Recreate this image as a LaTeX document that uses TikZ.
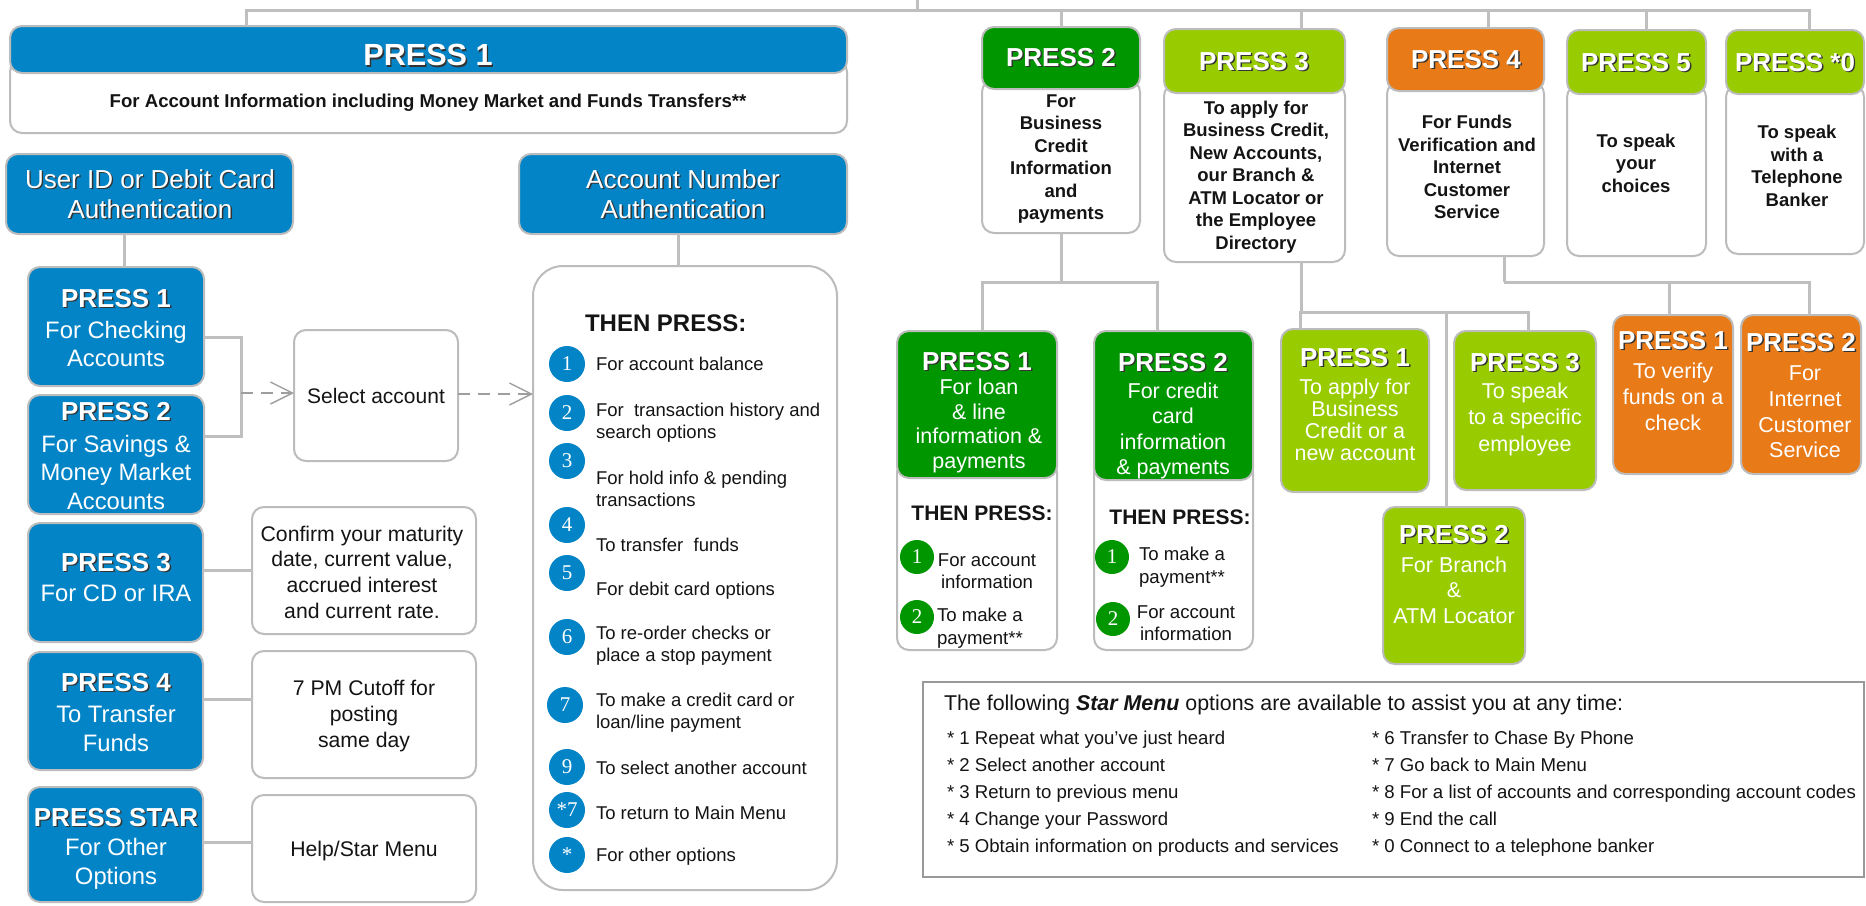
\documentclass[tikz,border=0pt]{standalone}
\usepackage{fontspec}
\setmainfont{Liberation Sans}
\newfontfamily\numfont{Liberation Serif}
\usetikzlibrary{arrows.meta}
\definecolor{cblue}{RGB}{2,132,199}
\definecolor{cdgreen}{RGB}{0,150,0}
\definecolor{clgreen}{RGB}{153,204,0}
\definecolor{corange}{RGB}{232,122,24}
\definecolor{cline}{RGB}{191,191,191}
\definecolor{cedge}{RGB}{188,188,188}
\definecolor{ctext}{RGB}{20,20,20}
\newcommand\shd[1]{\leavevmode\rlap{\kern0.7pt\raisebox{-0.7pt}{\textcolor{black!80}{#1}}}#1}
\newcommand\mkbox[6]{%
  \pgfmathsetmacro\mkw{(#4-#2)*0.5}%
  \pgfmathsetmacro\mkh{(#5-#3)*0.5}%
  \node[#6,minimum width=\mkw pt,minimum height=\mkh pt] (#1) at ({(#2+#4)/2},{(#3+#5)/2}) {};}
\begin{document}
\begin{tikzpicture}[x=0.5pt,y=-0.5pt,
  every node/.style={inner sep=0pt,outer sep=0pt},
  conn/.style={draw=cline,line width=1.5pt},
  wbox/.style={draw=cedge,line width=1pt,fill=white,rounded corners=6pt},
  cbox/.style={draw=cedge,line width=1pt,fill=#1,rounded corners=6pt},
  lbl/.style={text=white,font=\fontsize{13}{15}\selectfont\bfseries},
  wtxt/.style={text=white,align=center},
  btxt/.style={text=ctext,align=center},
  topbody/.style={text=ctext,align=center,font=\fontsize{9.25}{11.25}\selectfont\bfseries},
  numc/.style={circle,fill=cblue,minimum size=18pt,text=white,font=\numfont\fontsize{10.5}{12}\selectfont},
  gnum/.style={circle,fill=cdgreen,minimum size=17pt,text=white,font=\numfont\fontsize{10.5}{12}\selectfont},
  item/.style={anchor=west,align=left,text=ctext,font=\fontsize{9.25}{10.85}\selectfont},
  gitem/.style={text=ctext,font=\fontsize{9.3}{11.25}\selectfont},
  dasharrow/.style={draw=black!38,line width=0.7pt,dash pattern=on 6pt off 4pt,-{Straight Barb[length=11pt,width=11pt]}}
]
\useasboundingbox (0,0) rectangle (1866,905);
\fill[white] (0,0) rectangle (1866,905);

% ---------- top PRESS 1 ----------
\coordinate (mainin) at (917,0);
\coordinate (bus) at (917,10);
\mkbox{p1body}{10}{60}{847}{133}{wbox}
\mkbox{p1head}{10}{26}{847}{73}{cbox=cblue}
\node[lbl,font=\fontsize{15.3}{18}\selectfont\bfseries] (p1lbl) at (428,56) {\shd{PRESS 1}};
\node[btxt,font=\fontsize{9.3}{11}\selectfont\bfseries] (p1txt) at (428,103) {For Account Information including Money Market and Funds Transfers**};

\mkbox{auth1}{6}{154}{293}{234}{cbox=cblue}
\node[wtxt,font=\fontsize{13}{15}\selectfont] (auth1t) at (150,195) {\shd{User ID or Debit Card}\\\shd{Authentication}};
\mkbox{auth2}{519}{154}{847}{234}{cbox=cblue}
\node[wtxt,font=\fontsize{13}{15}\selectfont] (auth2t) at (683,195) {\shd{Account Number}\\\shd{Authentication}};

% ---------- left column ----------
\mkbox{lp1}{28}{267}{204}{386}{cbox=cblue}
\node[lbl] (lp1l) at (116,299) {\shd{PRESS 1}};
\node[wtxt,font=\fontsize{11.9}{14}\selectfont] (lp1t) at (116,344) {For Checking\\Accounts};
\mkbox{lp2}{28}{395}{204}{514}{cbox=cblue}
\node[lbl] (lp2l) at (116,412) {\shd{PRESS 2}};
\node[wtxt,font=\fontsize{11.9}{14.25}\selectfont] (lp2t) at (116,472) {For Savings \&\\Money Market\\Accounts};
\mkbox{lp3}{28}{523}{203}{642}{cbox=cblue}
\node[lbl] (lp3l) at (116,563) {\shd{PRESS 3}};
\node[wtxt,font=\fontsize{11.9}{14}\selectfont] (lp3t) at (116,593) {For CD or IRA};
\mkbox{lp4}{28}{652}{203}{770}{cbox=cblue}
\node[lbl] (lp4l) at (116,683) {\shd{PRESS 4}};
\node[wtxt,font=\fontsize{11.9}{14.5}\selectfont] (lp4t) at (116,728) {To Transfer\\Funds};
\mkbox{lpS}{28}{787}{203}{902}{cbox=cblue}
\node[lbl] (lpSl) at (116,818) {\shd{PRESS STAR}};
\node[wtxt,font=\fontsize{11.9}{14.5}\selectfont] (lpSt) at (116,864) {For Other\\Options};

\mkbox{sel}{294}{330}{458}{461}{wbox}
\node[btxt,font=\fontsize{10.5}{12.5}\selectfont] (selt) at (376,396) {Select account};
\mkbox{conf}{252}{507}{476}{634}{wbox}
\node[btxt,font=\fontsize{10.6}{12.85}\selectfont] (conft) at (362,572) {Confirm your maturity\\date, current value,\\accrued interest\\and current rate.};
\mkbox{pm}{252}{651}{476}{778}{wbox}
\node[btxt,font=\fontsize{10.6}{12.85}\selectfont] (pmt) at (364,716) {7 PM Cutoff for\\posting\\same day};
\mkbox{help}{252}{795}{476}{902}{wbox}
\node[btxt,font=\fontsize{10.6}{12.85}\selectfont] (helpt) at (364,851) {Help/Star Menu};

% ---------- THEN PRESS list ----------
\mkbox{then}{533}{266}{837}{890}{wbox,rounded corners=15pt}
\node[anchor=west,text=ctext,font=\fontsize{12}{14}\selectfont\bfseries] (thenl) at (585,323) {THEN PRESS:};
\node[numc] (n1) at (567,364) {1};
\node[item] (i1) at (596,364) {For account balance};
\node[numc] (n2) at (567,413) {2};
\node[item] (i2) at (596,423) {For~ transaction history and\\search options};
\node[numc] (n3) at (567,461) {3};
\node[item] (i3) at (596,489) {For hold info \& pending\\transactions};
\node[numc] (n4) at (567,525) {4};
\node[item] (i4) at (596,545) {To transfer~ funds};
\node[numc] (n5) at (567,573) {5};
\node[item] (i5) at (596,591) {For debit card options};
\node[numc] (n6) at (567,637) {6};
\node[item] (i6) at (596,646) {To re-order checks or\\place a stop payment};
\node[numc] (n7) at (565,705) {7};
\node[item] (i7) at (596,713) {To make a credit card or\\loan/line payment};
\node[numc] (n9) at (567,767) {9};
\node[item] (i9) at (596,768) {To select another account};
\node[numc] (n10) at (567,810) {*7};
\node[item] (i10) at (596,813) {To return to Main Menu};
\node[numc] (n11) at (567,855) {*};
\node[item] (i11) at (596,857) {For other options};

% ---------- top row ----------
\mkbox{t2b}{982}{80}{1140}{233}{wbox}
\mkbox{t2h}{982}{27}{1140}{89}{cbox=cdgreen}
\node[lbl] (t2l) at (1061,58) {\shd{PRESS 2}};
\node[topbody] (t2t) at (1061,159) {For\\Business\\Credit\\Information\\and\\payments};

\mkbox{t3b}{1164}{84}{1345}{262}{wbox}
\mkbox{t3h}{1164}{29}{1345}{93}{cbox=clgreen}
\node[lbl] (t3l) at (1254,62) {\shd{PRESS 3}};
\node[topbody] (t3t) at (1256,177) {To apply for\\Business Credit,\\New Accounts,\\our Branch \&\\ATM Locator or\\the Employee\\Directory};

\mkbox{t4b}{1387}{82}{1544}{256}{wbox}
\mkbox{t4h}{1387}{28}{1544}{91}{cbox=corange}
\node[lbl] (t4l) at (1466,60) {\shd{PRESS 4}};
\node[topbody] (t4t) at (1467,167) {For Funds\\Verification and\\Internet\\Customer\\Service};

\mkbox{t5b}{1567}{85}{1706}{256}{wbox}
\mkbox{t5h}{1567}{30}{1706}{94}{cbox=clgreen}
\node[lbl] (t5l) at (1636,63) {\shd{PRESS 5}};
\node[topbody] (t5t) at (1636,163) {To speak\\your\\choices};

\mkbox{t0b}{1726}{85}{1864}{254}{wbox}
\mkbox{t0h}{1726}{30}{1864}{94}{cbox=clgreen}
\node[lbl] (t0l) at (1795,63) {\shd{PRESS *0}};
\node[topbody] (t0t) at (1797,166) {To speak\\with a\\Telephone\\Banker};

% ---------- PRESS 2 sub-boxes ----------
\mkbox{g1b}{897}{460}{1057}{650}{wbox}
\mkbox{g1h}{897}{331}{1057}{478}{cbox=cdgreen}
\node[lbl] (g1l) at (977,362) {\shd{PRESS 1}};
\node[wtxt,font=\fontsize{10.75}{12.35}\selectfont] (g1t) at (979,426) {For loan\\\& line\\information \&\\payments};
\node[text=ctext,font=\fontsize{10.5}{12}\selectfont\bfseries] (g1then) at (982,513) {THEN PRESS:};
\node[gnum] (g1n1) at (917,557) {1};
\node[gitem,align=center] (g1i1) at (987,571) {For account\\information};
\node[gnum] (g1n2) at (917,617) {2};
\node[gitem,align=left,anchor=west] (g1i2) at (937,628) {To make a\\payment**};

\mkbox{g2b}{1094}{460}{1253}{650}{wbox}
\mkbox{g2h}{1094}{331}{1253}{480}{cbox=cdgreen}
\node[lbl] (g2l) at (1173,363) {\shd{PRESS 2}};
\node[wtxt,font=\fontsize{10.75}{12.6}\selectfont] (g2t) at (1173,431) {For credit\\card\\information\\\& payments};
\node[text=ctext,font=\fontsize{10.5}{12}\selectfont\bfseries] (g2then) at (1180,517) {THEN PRESS:};
\node[gnum] (g2n1) at (1112,557) {1};
\node[gitem,align=center] (g2i1) at (1182,567) {To make a\\payment**};
\node[gnum] (g2n2) at (1113,619) {2};
\node[gitem,align=center] (g2i2) at (1186,623) {For account\\information};

% ---------- PRESS 3 sub-boxes ----------
\mkbox{lg1}{1281}{329}{1429}{492}{cbox=clgreen}
\node[lbl] (lg1l) at (1355,358) {\shd{PRESS 1}};
\node[wtxt,font=\fontsize{10.75}{10.9}\selectfont] (lg1t) at (1355,420) {To apply for\\Business\\Credit or a\\new account};
\mkbox{lg3}{1454}{331}{1596}{490}{cbox=clgreen}
\node[lbl] (lg3l) at (1525,363) {\shd{PRESS 3}};
\node[wtxt,font=\fontsize{10.75}{13.25}\selectfont] (lg3t) at (1525,419) {To speak\\to a specific\\employee};
\mkbox{lg2}{1383}{507}{1525}{664}{cbox=clgreen}
\node[lbl] (lg2l) at (1454,535) {\shd{PRESS 2}};
\node[wtxt,font=\fontsize{10.75}{12.75}\selectfont] (lg2t) at (1454,590) {For Branch\\\&\\ATM Locator};

% ---------- PRESS 4 sub-boxes ----------
\mkbox{o1}{1613}{315}{1733}{474}{cbox=corange}
\node[lbl] (o1l) at (1673,341) {\shd{PRESS 1}};
\node[wtxt,font=\fontsize{10.75}{13}\selectfont] (o1t) at (1673,397) {To verify\\funds on a\\check};
\mkbox{o2}{1741}{315}{1861}{474}{cbox=corange}
\node[lbl] (o2l) at (1801,343) {\shd{PRESS 2}};
\node[wtxt,font=\fontsize{10.75}{12.85}\selectfont] (o2t) at (1805,412) {For\\Internet\\Customer\\Service};

% ---------- Star menu ----------
\mkbox{star}{923}{682}{1864}{877}{draw=black!40,line width=1pt,fill=white}
\node[anchor=west,text=ctext,font=\fontsize{10.7}{12.5}\selectfont] (stitle) at (944,705) {The following \textbf{\textit{Star Menu}} options are available to assist you at any time:};
\node[anchor=west,align=left,text=ctext,font=\fontsize{9.3}{13.5}\selectfont] (sleft) at (947,794) {* 1 Repeat what you’ve just heard\\* 2 Select another account\\* 3 Return to previous menu\\* 4 Change your Password\\* 5 Obtain information on products and services};
\node[anchor=west,align=left,text=ctext,font=\fontsize{9.3}{13.5}\selectfont] (sright) at (1372,794) {* 6 Transfer to Chase By Phone\\* 7 Go back to Main Menu\\* 8 For a list of accounts and corresponding account codes\\* 9 End the call\\* 0 Connect to a telephone banker};

% ---------- connectors ----------
\draw[conn] (mainin) -- (bus);
\draw[conn] (bus) -| (p1head.north -| 246,0);
\draw[conn] (bus) -| (t2h.north -| 1061,0);
\draw[conn] (bus) -| (t3h.north -| 1301,0);
\draw[conn] (bus) -| (t4h.north -| 1488,0);
\draw[conn] (bus) -| (t5h.north -| 1646,0);
\draw[conn] (bus) -| (t0h.north -| 1809,0);

\draw[conn] (auth1.south -| 124,0) -- (lp1.north -| 124,0);
\draw[conn] (auth2.south -| 678,0) -- (then.north -| 678,0);

\coordinate (brk) at (241,393);
\draw[conn] (lp1.east |- 0,337) -| (brk) |- (lp2.east |- 0,436);
\draw[dasharrow] (brk) -- (sel.west |- brk);
\draw[dasharrow] (sel.east |- 0,394) -- (then.west |- 0,394);
\draw[conn] (lp3.east |- conf.west) -- (conf.west);
\draw[conn] (lp4.east |- 0,699) -- (pm.west |- 0,699);
\draw[conn] (lpS.east |- 0,842) -- (help.west |- 0,842);

\coordinate (t2j) at (1061,282);
\draw[conn] (t2b.south -| t2j) -- (t2j);
\draw[conn] (t2j) -| (g1h.north -| 982,0);
\draw[conn] (t2j) -| (g2h.north -| 1157,0);

\coordinate (t3j) at (1301,312);
\draw[conn] (t3b.south -| t3j) -- (t3j);
\draw[conn] (t3j) -| (lg1.north -| 1300,0);
\draw[conn] (t3j) -| (lg3.north -| 1528,0);
\draw[conn] (t3j) -| (lg2.north -| 1446,0);

\coordinate (t4j) at (1504,282);
\draw[conn] (t4b.south -| t4j) -- (t4j);
\draw[conn] (t4j) -| (o1.north -| 1669,0);
\draw[conn] (t4j) -| (o2.north -| 1809,0);
\end{tikzpicture}
\end{document}
